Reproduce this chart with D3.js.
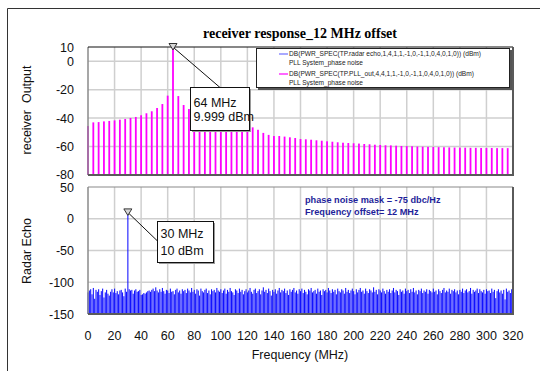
<!DOCTYPE html>
<html><head><meta charset="utf-8">
<script src="https://cdn.jsdelivr.net/npm/d3@7"></script>
<style>
html,body{margin:0;padding:0;background:#fff;}
svg{display:block;font-family:Arial,"Liberation Sans",sans-serif;}
</style></head>
<body>
<svg id="c" width="540" height="371"></svg>
<script>
// ---- data ----
const title = "receiver response_12 MHz offset";
const xTicks = [0,20,40,60,80,100,120,140,160,180,200,220,240,260,280,300,320];
const topYTicks = [10,0,-20,-40,-60,-80];
const botYTicks = [50,0,-50,-100,-150];
const topStep = 4;   // MHz between PLL_out spectral lines
const pllOut = [-45.6,-43,-42.8,-42.3,-42,-41.6,-41.1,-40.6,-39.9,-39.2,-38,-36.6,-35.2,-32.9,-30.1,-24.2,9.999,
  -24.5,-30.8,-33.6,-35.5,-37,-38.3,-39.5,-40.5,-41.5,-42.3,-43.1,-43.9,-44.7,-45.6,-46.5,-48.2,-50.4,-51.8,
  -52.6,-52.6,-53,-53.5,-54,-54.7,-54.9,-55.2,-55.6,-55.9,-56.3,-56.6,-57,-57.3,-57.5,-57.7,-57.9,-58.2,-58.4,
  -58.7,-58.9,-59.1,-59.2,-59.4,-59.6,-59.7,-59.8,-60,-60.1,-60.2,-60.3,-60.4,-60.5,-60.6,-60.7,-60.8,-60.8,
  -60.9,-60.9,-61,-61,-61,-61.1,-61.1,-61.1];
const botStep = 1;   // MHz between radar echo bins
const radarEcho = [
 -116,-113,-111,-119,-109,-126,-112,-115,-111,-120,-114,-110,-124,-116,-112,-118,-121,-115,-111,-116,
 -110,-117,-114,-119,-113,-112,-116,-122,-110,-115,10,-111,-113,-112,-118,-113,-111,-115,-114,-112,
 -120,-119,-117,-118,-116,-114,-113,-115,-112,-110,-114,-108,-113,-116,-111,-115,-109,-114,-118,-112,
 -113,-117,-110,-115,-114,-119,-112,-110,-116,-113,-118,-111,-114,-112,-117,-110,-113,-116,-109,-115,
 -112,-118,-111,-113,-121,-110,-114,-116,-112,-110,-117,-113,-119,-111,-114,-112,-116,-109,-113,-115,
 -111,-117,-113,-110,-118,-112,-115,-109,-114,-116,-120,-111,-113,-117,-110,-115,-112,-119,-114,-111,
 -116,-113,-109,-115,-118,-112,-110,-117,-114,-111,-119,-113,-108,-115,-112,-117,-110,-114,-121,-112,
 -115,-111,-118,-113,-109,-116,-112,-114,-110,-117,-113,-120,-111,-115,-112,-109,-116,-113,-118,-111,
 -114,-110,-117,-112,-115,-119,-111,-113,-109,-116,-114,-112,-118,-110,-115,-113,-120,-111,-114,-112,
 -116,-109,-113,-117,-111,-115,-112,-119,-110,-114,-116,-111,-113,-118,-109,-115,-112,-117,-113,-110,
 -114,-119,-111,-116,-112,-109,-115,-113,-118,-110,-114,-117,-111,-113,-116,-108,-115,-112,-119,-111,
 -113,-116,-110,-114,-118,-112,-115,-111,-117,-113,-109,-116,-112,-114,-120,-111,-115,-113,-118,-110,
 -114,-112,-117,-111,-115,-109,-116,-113,-119,-112,-114,-110,-117,-113,-115,-111,-118,-112,-114,-116,
 -110,-115,-113,-119,-111,-114,-117,-112,-109,-116,-113,-115,-110,-118,-112,-114,-111,-116,-113,-119,
 -112,-115,-110,-117,-113,-111,-116,-114,-109,-118,-112,-115,-113,-110,-117,-111,-114,-116,-112,-118,
 -111,-114,-113,-117,-110,-115,-112,-125,-114,-111,-116,-113,-118,-112,-127,-110,-115,-113,-117,-111,-112];
const topMarker = {f:64, v:9.999, lines:["64 MHz","9.999 dBm"]};
const botMarker = {f:30, v:10, lines:["30 MHz","10 dBm"]};
const legendItems = [
  {color:"#6f6fff", l1:"DB(PWR_SPEC(TP.radar echo,1,4,1,1,-1,0,-1,1,0,4,0,1,0)) (dBm)", l2:"PLL System_phase noise", w1:192},
  {color:"#ff00ff", l1:"DB(PWR_SPEC(TP.PLL_out,4,4,1,1,-1,0,-1,1,0,4,0,1,0)) (dBm)", l2:"PLL System_phase noise", w1:185}];
const noteLines = ["phase noise mask = -75 dbc/Hz","Frequency offset= 12 MHz"];

// ---- drawing ----
const svg = d3.select("#c");
const L = 88, R = 513;
const x = d3.scaleLinear().domain([0,320]).range([L,R]);
const yT = d3.scaleLinear().domain([-80,10]).range([175,47]);
const yB = d3.scaleLinear().domain([-150,50]).range([314,187]);

// outer frame
svg.append("line").attr("x1",7.5).attr("x2",540).attr("y1",8.5).attr("y2",8.5).attr("stroke","#333");
svg.append("line").attr("x1",7.5).attr("x2",7.5).attr("y1",8.5).attr("y2",371).attr("stroke","#333");

// title
svg.append("text").attr("x",300).attr("y",38).attr("text-anchor","middle")
  .attr("font-family","'Times New Roman','Liberation Serif',serif").attr("font-weight","bold")
  .attr("font-size",14).text(title);

function grid(y, yticks){
  const g = svg.append("g");
  g.selectAll(".v").data(xTicks.slice(1,-1)).join("line")
    .attr("x1",d=>x(d)).attr("x2",d=>x(d)).attr("y1",y.range()[1]).attr("y2",y.range()[0])
    .attr("stroke","#cfcfcf").attr("stroke-width",1.5);
  g.selectAll(".h").data(yticks.slice(1,-1)).join("line")
    .attr("x1",L).attr("x2",R).attr("y1",d=>y(d)).attr("y2",d=>y(d))
    .attr("stroke","#cfcfcf").attr("stroke-width",1.5);
}
function frame(y, topColor){
  const y0 = y.range()[0], y1 = y.range()[1];
  svg.append("line").attr("x1",L).attr("x2",L).attr("y1",y1).attr("y2",y0).attr("stroke","#8a8a8a").attr("stroke-width",1.5);
  svg.append("line").attr("x1",L).attr("x2",R).attr("y1",y1).attr("y2",y1).attr("stroke",topColor).attr("stroke-width",1.2);
  svg.append("line").attr("x1",R).attr("x2",R).attr("y1",y1).attr("y2",y0+1).attr("stroke","#5a5a5a").attr("stroke-width",2);
  svg.append("line").attr("x1",L).attr("x2",R+1).attr("y1",y0).attr("y2",y0).attr("stroke","#5a5a5a").attr("stroke-width",2);
}
function yAxisLabels(y, ticks, shift){
  svg.append("g").selectAll("text").data(ticks).join("text")
    .attr("x",74).attr("y",d=>y(d)+4.5+(shift[d]||0)).attr("text-anchor","end").attr("font-size",12.5).attr("fill","#111")
    .text(d=>d);
}

// top panel
grid(yT, topYTicks);
svg.append("g").selectAll("rect").data(pllOut).join("rect")
  .attr("x",(d,i)=>x(i*topStep)-0.9).attr("width",1.8)
  .attr("y",d=>yT(d)).attr("height",d=>yT(-80)-yT(d)).attr("fill","#ff00ff");
frame(yT, "#111");
yAxisLabels(yT, topYTicks, {"-80":-0.5});

// bottom panel
grid(yB, botYTicks);
svg.append("g").selectAll("rect").data(radarEcho).join("rect")
  .attr("x",(d,i)=>x(i*botStep)-0.5).attr("width",1.05)
  .attr("y",d=>yB(d)).attr("height",d=>yB(-150)-yB(d)).attr("fill","#1010ff");
frame(yB, "#8a8a8a");
yAxisLabels(yB, botYTicks, {"50":0.5});

// x tick labels
svg.append("g").selectAll("text").data(xTicks).join("text")
  .attr("x",d=>x(d)).attr("y",339.5).attr("text-anchor","middle").attr("font-size",12.5).attr("fill","#111")
  .text(d=>d);
svg.append("text").attr("x",300).attr("y",359).attr("text-anchor","middle").attr("font-size",12.5).attr("fill","#111").text("Frequency (MHz)");
svg.append("text").attr("transform","translate(31,110) rotate(-90)").attr("text-anchor","middle").attr("font-size",12.5).attr("fill","#111").attr("xml:space","preserve").text("receiver  Output");
svg.append("text").attr("transform","translate(31,251) rotate(-90)").attr("text-anchor","middle").attr("font-size",12.5).attr("fill","#111").text("Radar Echo");

// markers
function marker(m, y, box){
  const px = x(m.f), py = y(m.v);
  svg.append("line").attr("x1",px+1).attr("y1",py+1).attr("x2",box.lx).attr("y2",box.ly).attr("stroke","#111").attr("stroke-width",1);
  svg.append("path").attr("d",`M${px-4},${py-3.5}L${px+4},${py-3.5}L${px},${py+3}Z`)
    .attr("fill","#d8d8d8").attr("stroke","#333").attr("stroke-width",1);
  svg.append("rect").attr("x",box.x+1.5).attr("y",box.y+1.5).attr("width",box.w).attr("height",box.h).attr("fill","#9a9a9a");
  svg.append("rect").attr("x",box.x).attr("y",box.y).attr("width",box.w).attr("height",box.h).attr("fill","#fff").attr("stroke","#111").attr("stroke-width",1);
  m.lines.forEach((t,i)=>svg.append("text").attr("x",box.x+3).attr("y",box.y+box.tb+i*box.lh).attr("font-size",12.5).attr("fill","#111").text(t));
}
marker(topMarker, yT, {x:190.5,y:87.5,w:59,h:43,lx:220,ly:87.5,tb:19.5,lh:13.5});
marker(botMarker, yB, {x:157.5,y:221.5,w:56,h:41,lx:157.5,ly:241,tb:16,lh:17.5});

// legend
svg.append("rect").attr("x",258).attr("y",50).attr("width",254).attr("height",40).attr("fill","#555");
svg.append("rect").attr("x",256.5).attr("y",48.5).attr("width",253).attr("height",39).attr("fill","#fff").attr("stroke","#222").attr("stroke-width",1);
legendItems.forEach((it,i)=>{
  const yy = 54 + i*20;
  svg.append("line").attr("x1",279).attr("x2",288).attr("y1",yy).attr("y2",yy).attr("stroke",it.color).attr("stroke-width",1.2);
  svg.append("text").attr("x",289).attr("y",yy+2.4).attr("font-size",7).attr("fill","#222")
    .attr("textLength",it.w1).attr("lengthAdjust","spacingAndGlyphs").text(it.l1);
  svg.append("text").attr("x",289).attr("y",yy+11).attr("font-size",7).attr("fill","#222")
    .attr("textLength",74).attr("lengthAdjust","spacingAndGlyphs").text(it.l2);
});

// note
noteLines.forEach((t,i)=>svg.append("text").attr("x",305).attr("y",202.5+i*12.5).attr("font-size",9.2)
  .attr("font-weight","bold").attr("fill","#1f1f9a").text(t));
</script>
</body></html>
